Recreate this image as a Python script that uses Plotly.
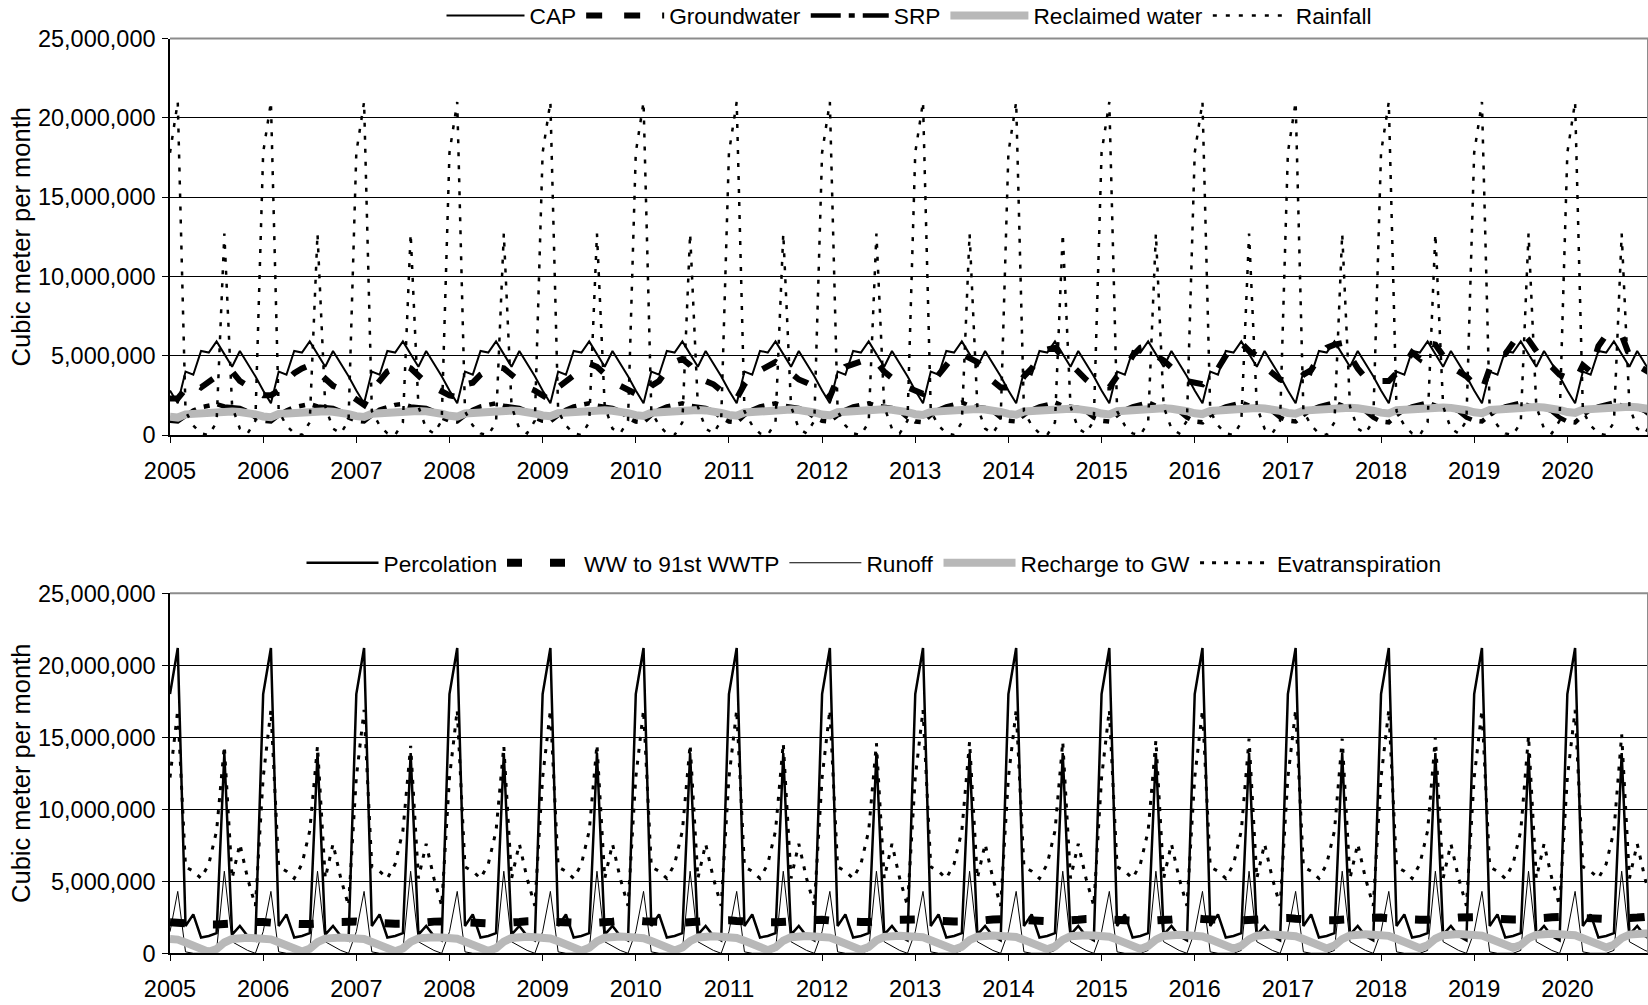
import plotly.graph_objects as go

# ---------------- data (million cubic meters per month), rows = years 2005..2020, 12 months each
years = list(range(2005, 2021))
year_labels = [str(y) for y in years]

cap_rows = [
    [2.8, 2.0, 4.0, 3.8, 5.3, 5.2, 5.9, 5.1, 4.3, 5.3, 4.5, 3.7],
    [2.8, 2.0, 4.0, 3.8, 5.3, 5.2, 5.9, 5.1, 4.3, 5.3, 4.5, 3.7],
    [2.8, 2.0, 4.0, 3.8, 5.3, 5.2, 5.9, 5.1, 4.3, 5.3, 4.5, 3.7],
    [2.8, 2.0, 4.0, 3.8, 5.3, 5.2, 5.9, 5.1, 4.3, 5.3, 4.5, 3.7],
    [2.8, 2.0, 4.0, 3.8, 5.3, 5.2, 5.9, 5.1, 4.3, 5.3, 4.5, 3.7],
    [2.8, 2.0, 4.0, 3.8, 5.3, 5.2, 5.9, 5.1, 4.3, 5.3, 4.5, 3.7],
    [2.8, 2.0, 4.0, 3.8, 5.3, 5.2, 5.9, 5.1, 4.3, 5.3, 4.5, 3.7],
    [2.8, 2.0, 4.0, 3.8, 5.3, 5.2, 5.9, 5.1, 4.3, 5.3, 4.5, 3.7],
    [2.8, 2.0, 4.0, 3.8, 5.3, 5.2, 5.9, 5.1, 4.3, 5.3, 4.5, 3.7],
    [2.8, 2.0, 4.0, 3.8, 5.3, 5.2, 5.9, 5.1, 4.3, 5.3, 4.5, 3.7],
    [2.8, 2.0, 4.0, 3.8, 5.3, 5.2, 5.9, 5.1, 4.3, 5.3, 4.5, 3.7],
    [2.8, 2.0, 4.0, 3.8, 5.3, 5.2, 5.9, 5.1, 4.3, 5.3, 4.5, 3.7],
    [2.8, 2.0, 4.0, 3.8, 5.3, 5.2, 5.9, 5.1, 4.3, 5.3, 4.5, 3.7],
    [2.8, 2.0, 4.0, 3.8, 5.3, 5.2, 5.9, 5.1, 4.3, 5.3, 4.5, 3.7],
    [2.8, 2.0, 4.0, 3.8, 5.3, 5.2, 5.9, 5.1, 4.3, 5.3, 4.5, 3.7],
    [2.8, 2.0, 4.0, 3.8, 5.3, 5.2, 5.9, 5.1, 4.3, 5.3, 4.5, 3.7],
]

groundwater_rows = [
    [2.3, 2.3, 2.9, 3.3, 3.0, 3.4, 3.7, 3.9, 4.0, 3.4, 3.1, 2.8],
    [2.5, 2.5, 2.8, 3.4, 3.9, 4.2, 4.4, 4.0, 3.5, 3.1, 2.9, 2.6],
    [2.2, 1.9, 2.8, 3.4, 4.0, 4.2, 4.4, 4.2, 3.7, 3.3, 3.0, 2.7],
    [2.5, 2.4, 3.2, 3.3, 3.8, 4.1, 4.3, 4.2, 3.8, 3.3, 3.0, 2.8],
    [2.5, 2.2, 3.0, 3.4, 3.7, 4.1, 4.5, 4.3, 3.8, 3.4, 3.1, 2.8],
    [2.6, 2.4, 3.1, 3.4, 4.1, 4.6, 4.8, 4.4, 3.8, 3.4, 3.2, 2.8],
    [2.4, 2.3, 3.2, 3.8, 4.1, 4.4, 4.6, 4.3, 3.9, 3.5, 3.3, 3.1],
    [2.8, 2.4, 3.6, 4.3, 4.5, 4.6, 4.8, 4.6, 4.0, 3.6, 3.2, 3.0],
    [2.8, 2.6, 3.2, 3.8, 4.5, 5.0, 5.1, 4.8, 4.6, 4.0, 3.4, 3.0],
    [3.0, 2.9, 3.7, 4.2, 4.9, 5.4, 5.5, 4.9, 4.5, 4.0, 3.5, 3.1],
    [3.0, 3.0, 3.7, 4.1, 5.0, 5.5, 5.6, 5.0, 4.7, 4.2, 3.8, 3.4],
    [3.3, 3.2, 3.8, 4.2, 5.0, 5.6, 5.8, 5.3, 5.0, 4.3, 3.9, 3.5],
    [3.4, 3.3, 3.8, 4.1, 4.9, 5.5, 5.7, 5.8, 5.0, 4.2, 3.6, 3.6],
    [3.4, 3.4, 3.9, 4.4, 5.2, 4.8, 5.8, 5.7, 5.0, 4.3, 4.0, 3.7],
    [3.2, 2.8, 4.2, 5.0, 5.1, 5.8, 6.5, 6.0, 5.3, 4.6, 4.3, 3.8],
    [3.6, 3.4, 4.4, 4.0, 5.6, 6.3, 6.2, 6.3, 5.0, 4.4, 4.1, 3.8],
]

srp_rows = [
    [0.90, 0.85, 1.20, 1.55, 1.75, 1.85, 1.95, 1.80, 1.75, 1.70, 1.50, 1.10],
    [0.90, 0.85, 1.25, 1.55, 1.75, 1.85, 1.95, 1.80, 1.75, 1.70, 1.50, 1.10],
    [0.90, 0.85, 1.25, 1.60, 1.75, 1.90, 1.95, 1.80, 1.75, 1.70, 1.50, 1.10],
    [0.90, 0.85, 1.25, 1.60, 1.80, 1.90, 2.00, 1.85, 1.75, 1.70, 1.50, 1.10],
    [0.90, 0.85, 1.25, 1.60, 1.80, 1.90, 2.00, 1.85, 1.75, 1.70, 1.50, 1.10],
    [0.85, 0.80, 1.25, 1.60, 1.80, 1.90, 2.00, 1.85, 1.75, 1.70, 1.50, 1.10],
    [0.85, 0.80, 1.25, 1.60, 1.80, 1.90, 2.00, 1.85, 1.75, 1.70, 1.50, 1.10],
    [0.90, 0.85, 1.25, 1.60, 1.80, 1.90, 2.00, 1.85, 1.75, 1.70, 1.50, 1.10],
    [0.85, 0.80, 1.25, 1.60, 1.80, 1.95, 2.05, 1.85, 1.75, 1.70, 1.50, 1.10],
    [0.90, 0.85, 1.25, 1.60, 1.80, 1.95, 2.05, 1.85, 1.75, 1.70, 1.50, 1.10],
    [0.90, 0.85, 1.25, 1.60, 1.80, 1.95, 2.05, 1.85, 1.75, 1.70, 1.50, 1.10],
    [0.85, 0.80, 1.25, 1.60, 1.80, 1.95, 2.05, 1.85, 1.75, 1.70, 1.50, 1.10],
    [0.90, 0.85, 1.25, 1.60, 1.80, 1.95, 2.05, 1.85, 1.75, 1.70, 1.50, 1.10],
    [0.85, 0.80, 1.25, 1.60, 1.80, 1.95, 2.05, 1.85, 1.75, 1.70, 1.50, 1.10],
    [0.90, 0.85, 1.25, 1.60, 1.80, 1.95, 2.05, 1.85, 1.75, 1.70, 1.50, 1.10],
    [0.85, 0.80, 1.25, 1.60, 1.80, 1.95, 2.05, 1.85, 1.75, 1.70, 1.50, 1.10],
]

reclaimed_rows = [
    [1.15, 1.10, 1.30, 1.35, 1.40, 1.45, 1.50, 1.50, 1.48, 1.45, 1.40, 1.30],
    [1.17, 1.12, 1.32, 1.37, 1.42, 1.47, 1.52, 1.52, 1.50, 1.47, 1.42, 1.32],
    [1.19, 1.14, 1.34, 1.39, 1.44, 1.49, 1.54, 1.54, 1.52, 1.49, 1.44, 1.34],
    [1.21, 1.16, 1.36, 1.41, 1.46, 1.51, 1.56, 1.56, 1.54, 1.51, 1.46, 1.36],
    [1.23, 1.18, 1.38, 1.43, 1.48, 1.53, 1.58, 1.58, 1.56, 1.53, 1.48, 1.38],
    [1.25, 1.20, 1.40, 1.45, 1.50, 1.55, 1.60, 1.60, 1.58, 1.55, 1.50, 1.40],
    [1.27, 1.22, 1.42, 1.47, 1.52, 1.57, 1.62, 1.62, 1.60, 1.57, 1.52, 1.42],
    [1.29, 1.24, 1.44, 1.49, 1.54, 1.59, 1.64, 1.64, 1.62, 1.59, 1.54, 1.44],
    [1.31, 1.26, 1.46, 1.51, 1.56, 1.61, 1.66, 1.66, 1.64, 1.61, 1.56, 1.46],
    [1.33, 1.28, 1.48, 1.53, 1.58, 1.63, 1.68, 1.68, 1.66, 1.63, 1.58, 1.48],
    [1.35, 1.30, 1.50, 1.55, 1.60, 1.65, 1.70, 1.70, 1.68, 1.65, 1.60, 1.50],
    [1.37, 1.32, 1.52, 1.57, 1.62, 1.67, 1.72, 1.72, 1.70, 1.67, 1.62, 1.52],
    [1.39, 1.34, 1.54, 1.59, 1.64, 1.69, 1.74, 1.74, 1.72, 1.69, 1.64, 1.54],
    [1.41, 1.36, 1.56, 1.61, 1.66, 1.71, 1.76, 1.76, 1.74, 1.71, 1.66, 1.56],
    [1.43, 1.38, 1.58, 1.63, 1.68, 1.73, 1.78, 1.78, 1.76, 1.73, 1.68, 1.58],
    [1.45, 1.40, 1.60, 1.65, 1.70, 1.75, 1.80, 1.80, 1.78, 1.75, 1.70, 1.60],
]

rainfall_rows = [
    [17.8, 21.0, 1.5, 0.6, 0.1, 0.0, 0.8, 12.7, 1.8, 0.4, 0.1, 0.9],
    [17.8, 21.0, 1.5, 0.6, 0.1, 0.0, 0.8, 12.7, 1.8, 0.4, 0.1, 0.9],
    [17.8, 21.0, 1.5, 0.6, 0.1, 0.0, 0.8, 12.7, 1.8, 0.4, 0.1, 0.9],
    [17.8, 21.0, 1.5, 0.6, 0.1, 0.0, 0.8, 12.7, 1.8, 0.4, 0.1, 0.9],
    [17.8, 21.0, 1.5, 0.6, 0.1, 0.0, 0.8, 12.7, 1.8, 0.4, 0.1, 0.9],
    [17.8, 21.0, 1.5, 0.6, 0.1, 0.0, 0.8, 12.7, 1.8, 0.4, 0.1, 0.9],
    [17.8, 21.0, 1.5, 0.6, 0.1, 0.0, 0.8, 12.7, 1.8, 0.4, 0.1, 0.9],
    [17.8, 21.0, 1.5, 0.6, 0.1, 0.0, 0.8, 12.7, 1.8, 0.4, 0.1, 0.9],
    [17.8, 21.0, 1.5, 0.6, 0.1, 0.0, 0.8, 12.7, 1.8, 0.4, 0.1, 0.9],
    [17.8, 21.0, 1.5, 0.6, 0.1, 0.0, 0.8, 12.7, 1.8, 0.4, 0.1, 0.9],
    [17.8, 21.0, 1.5, 0.6, 0.1, 0.0, 0.8, 12.7, 1.8, 0.4, 0.1, 0.9],
    [17.8, 21.0, 1.5, 0.6, 0.1, 0.0, 0.8, 12.7, 1.8, 0.4, 0.1, 0.9],
    [17.8, 21.0, 1.5, 0.6, 0.1, 0.0, 0.8, 12.7, 1.8, 0.4, 0.1, 0.9],
    [17.8, 21.0, 1.5, 0.6, 0.1, 0.0, 0.8, 12.7, 1.8, 0.4, 0.1, 0.9],
    [17.8, 21.0, 1.5, 0.6, 0.1, 0.0, 0.8, 12.7, 1.8, 0.4, 0.1, 0.9],
    [17.8, 21.0, 1.5, 0.6, 0.1, 0.0, 0.8, 12.7, 1.8, 0.4, 0.1, 0.9],
]

percolation_rows = [
    [18.0, 21.2, 1.9, 2.7, 1.1, 1.2, 1.4, 13.9, 1.3, 1.9, 1.2, 0.9],
    [18.0, 21.2, 1.9, 2.7, 1.1, 1.2, 1.4, 13.9, 1.3, 1.9, 1.2, 0.9],
    [18.0, 21.2, 1.9, 2.7, 1.1, 1.2, 1.4, 13.9, 1.3, 1.9, 1.2, 0.9],
    [18.0, 21.2, 1.9, 2.7, 1.1, 1.2, 1.4, 13.9, 1.3, 1.9, 1.2, 0.9],
    [18.0, 21.2, 1.9, 2.7, 1.1, 1.2, 1.4, 13.9, 1.3, 1.9, 1.2, 0.9],
    [18.0, 21.2, 1.9, 2.7, 1.1, 1.2, 1.4, 13.9, 1.3, 1.9, 1.2, 0.9],
    [18.0, 21.2, 1.9, 2.7, 1.1, 1.2, 1.4, 13.9, 1.3, 1.9, 1.2, 0.9],
    [18.0, 21.2, 1.9, 2.7, 1.1, 1.2, 1.4, 13.9, 1.3, 1.9, 1.2, 0.9],
    [18.0, 21.2, 1.9, 2.7, 1.1, 1.2, 1.4, 13.9, 1.3, 1.9, 1.2, 0.9],
    [18.0, 21.2, 1.9, 2.7, 1.1, 1.2, 1.4, 13.9, 1.3, 1.9, 1.2, 0.9],
    [18.0, 21.2, 1.9, 2.7, 1.1, 1.2, 1.4, 13.9, 1.3, 1.9, 1.2, 0.9],
    [18.0, 21.2, 1.9, 2.7, 1.1, 1.2, 1.4, 13.9, 1.3, 1.9, 1.2, 0.9],
    [18.0, 21.2, 1.9, 2.7, 1.1, 1.2, 1.4, 13.9, 1.3, 1.9, 1.2, 0.9],
    [18.0, 21.2, 1.9, 2.7, 1.1, 1.2, 1.4, 13.9, 1.3, 1.9, 1.2, 0.9],
    [18.0, 21.2, 1.9, 2.7, 1.1, 1.2, 1.4, 13.9, 1.3, 1.9, 1.2, 0.9],
    [18.0, 21.2, 1.9, 2.7, 1.1, 1.2, 1.4, 13.9, 1.3, 1.9, 1.2, 0.9],
]

ww_rows = [
    [2.15, 2.10, 2.05, 2.00, 2.00, 2.00, 2.00, 2.00, 2.05, 2.10, 2.15, 2.20],
    [2.18, 2.13, 2.08, 2.03, 2.03, 2.03, 2.03, 2.03, 2.08, 2.13, 2.18, 2.23],
    [2.20, 2.15, 2.10, 2.05, 2.05, 2.05, 2.05, 2.05, 2.10, 2.15, 2.20, 2.25],
    [2.23, 2.18, 2.13, 2.08, 2.08, 2.08, 2.08, 2.08, 2.13, 2.18, 2.23, 2.28],
    [2.25, 2.20, 2.15, 2.10, 2.10, 2.10, 2.10, 2.10, 2.15, 2.20, 2.25, 2.30],
    [2.28, 2.23, 2.18, 2.13, 2.13, 2.13, 2.13, 2.13, 2.18, 2.23, 2.28, 2.33],
    [2.30, 2.25, 2.20, 2.15, 2.15, 2.15, 2.15, 2.15, 2.20, 2.25, 2.30, 2.35],
    [2.33, 2.28, 2.23, 2.18, 2.18, 2.18, 2.18, 2.18, 2.23, 2.28, 2.33, 2.38],
    [2.35, 2.30, 2.25, 2.20, 2.20, 2.20, 2.20, 2.20, 2.25, 2.30, 2.35, 2.40],
    [2.38, 2.33, 2.28, 2.23, 2.23, 2.23, 2.23, 2.23, 2.28, 2.33, 2.38, 2.43],
    [2.40, 2.35, 2.30, 2.25, 2.25, 2.25, 2.25, 2.25, 2.30, 2.35, 2.40, 2.45],
    [2.43, 2.38, 2.33, 2.28, 2.28, 2.28, 2.28, 2.28, 2.33, 2.38, 2.43, 2.48],
    [2.45, 2.40, 2.35, 2.30, 2.30, 2.30, 2.30, 2.30, 2.35, 2.40, 2.45, 2.50],
    [2.48, 2.43, 2.38, 2.33, 2.33, 2.33, 2.33, 2.33, 2.38, 2.43, 2.48, 2.53],
    [2.50, 2.45, 2.40, 2.35, 2.35, 2.35, 2.35, 2.35, 2.40, 2.45, 2.50, 2.55],
    [2.53, 2.48, 2.43, 2.38, 2.38, 2.38, 2.38, 2.38, 2.43, 2.48, 2.53, 2.58],
]

runoff_rows = [
    [1.5, 4.3, 0.1, 0.0, 0.0, 0.0, 0.2, 5.7, 0.8, 0.5, 0.2, 0.0],
    [1.5, 4.3, 0.1, 0.0, 0.0, 0.0, 0.2, 5.7, 0.8, 0.5, 0.2, 0.0],
    [1.5, 4.3, 0.1, 0.0, 0.0, 0.0, 0.2, 5.7, 0.8, 0.5, 0.2, 0.0],
    [1.5, 4.3, 0.1, 0.0, 0.0, 0.0, 0.2, 5.7, 0.8, 0.5, 0.2, 0.0],
    [1.5, 4.3, 0.1, 0.0, 0.0, 0.0, 0.2, 5.7, 0.8, 0.5, 0.2, 0.0],
    [1.5, 4.3, 0.1, 0.0, 0.0, 0.0, 0.2, 5.7, 0.8, 0.5, 0.2, 0.0],
    [1.5, 4.3, 0.1, 0.0, 0.0, 0.0, 0.2, 5.7, 0.8, 0.5, 0.2, 0.0],
    [1.5, 4.3, 0.1, 0.0, 0.0, 0.0, 0.2, 5.7, 0.8, 0.5, 0.2, 0.0],
    [1.5, 4.3, 0.1, 0.0, 0.0, 0.0, 0.2, 5.7, 0.8, 0.5, 0.2, 0.0],
    [1.5, 4.3, 0.1, 0.0, 0.0, 0.0, 0.2, 5.7, 0.8, 0.5, 0.2, 0.0],
    [1.5, 4.3, 0.1, 0.0, 0.0, 0.0, 0.2, 5.7, 0.8, 0.5, 0.2, 0.0],
    [1.5, 4.3, 0.1, 0.0, 0.0, 0.0, 0.2, 5.7, 0.8, 0.5, 0.2, 0.0],
    [1.5, 4.3, 0.1, 0.0, 0.0, 0.0, 0.2, 5.7, 0.8, 0.5, 0.2, 0.0],
    [1.5, 4.3, 0.1, 0.0, 0.0, 0.0, 0.2, 5.7, 0.8, 0.5, 0.2, 0.0],
    [1.5, 4.3, 0.1, 0.0, 0.0, 0.0, 0.2, 5.7, 0.8, 0.5, 0.2, 0.0],
    [1.5, 4.3, 0.1, 0.0, 0.0, 0.0, 0.2, 5.7, 0.8, 0.5, 0.2, 0.0],
]

recharge_rows = [
    [1.00, 0.95, 0.75, 0.50, 0.25, 0.10, 0.30, 0.75, 1.00, 1.08, 1.08, 1.05],
    [1.02, 0.97, 0.77, 0.52, 0.27, 0.12, 0.32, 0.77, 1.02, 1.10, 1.10, 1.07],
    [1.04, 0.99, 0.79, 0.54, 0.29, 0.14, 0.34, 0.79, 1.04, 1.12, 1.12, 1.09],
    [1.06, 1.01, 0.81, 0.56, 0.31, 0.16, 0.36, 0.81, 1.06, 1.14, 1.14, 1.11],
    [1.08, 1.03, 0.83, 0.58, 0.33, 0.18, 0.38, 0.83, 1.08, 1.16, 1.16, 1.13],
    [1.10, 1.05, 0.85, 0.60, 0.35, 0.20, 0.40, 0.85, 1.10, 1.18, 1.18, 1.15],
    [1.12, 1.07, 0.87, 0.62, 0.37, 0.22, 0.42, 0.87, 1.12, 1.20, 1.20, 1.17],
    [1.14, 1.09, 0.89, 0.64, 0.39, 0.24, 0.44, 0.89, 1.14, 1.22, 1.22, 1.19],
    [1.16, 1.11, 0.91, 0.66, 0.41, 0.26, 0.46, 0.91, 1.16, 1.24, 1.24, 1.21],
    [1.18, 1.13, 0.93, 0.68, 0.43, 0.28, 0.48, 0.93, 1.18, 1.26, 1.26, 1.23],
    [1.20, 1.15, 0.95, 0.70, 0.45, 0.30, 0.50, 0.95, 1.20, 1.28, 1.28, 1.25],
    [1.22, 1.17, 0.97, 0.72, 0.47, 0.32, 0.52, 0.97, 1.22, 1.30, 1.30, 1.27],
    [1.24, 1.19, 0.99, 0.74, 0.49, 0.34, 0.54, 0.99, 1.24, 1.32, 1.32, 1.29],
    [1.26, 1.21, 1.01, 0.76, 0.51, 0.36, 0.56, 1.01, 1.26, 1.34, 1.34, 1.31],
    [1.28, 1.23, 1.03, 0.78, 0.53, 0.38, 0.58, 1.03, 1.28, 1.36, 1.36, 1.33],
    [1.30, 1.25, 1.05, 0.80, 0.55, 0.40, 0.60, 1.05, 1.30, 1.38, 1.38, 1.35],
]

evap_rows = [
    [12.2, 16.9, 6.0, 5.7, 5.2, 6.2, 8.5, 14.4, 5.2, 7.6, 5.2, 3.3],
    [12.2, 16.9, 6.0, 5.7, 5.2, 6.2, 8.5, 14.4, 5.2, 7.6, 5.2, 3.3],
    [12.2, 16.9, 6.0, 5.7, 5.2, 6.2, 8.5, 14.4, 5.2, 7.6, 5.2, 3.3],
    [12.2, 16.9, 6.0, 5.7, 5.2, 6.2, 8.5, 14.4, 5.2, 7.6, 5.2, 3.3],
    [12.2, 16.9, 6.0, 5.7, 5.2, 6.2, 8.5, 14.5, 5.2, 7.6, 5.2, 3.3],
    [12.2, 16.9, 6.0, 5.7, 5.2, 6.2, 8.5, 14.5, 5.2, 7.6, 5.2, 3.3],
    [12.2, 16.9, 6.0, 5.7, 5.2, 6.2, 8.5, 14.6, 5.2, 7.6, 5.2, 3.3],
    [12.2, 16.9, 6.0, 5.7, 5.2, 6.2, 8.5, 14.6, 5.2, 7.6, 5.2, 3.3],
    [12.2, 16.9, 6.0, 5.7, 5.2, 6.2, 8.5, 14.7, 5.2, 7.6, 5.2, 3.3],
    [12.2, 16.9, 6.0, 5.7, 5.2, 6.2, 8.5, 14.7, 5.2, 7.6, 5.2, 3.3],
    [12.2, 16.9, 6.0, 5.7, 5.2, 6.2, 8.5, 14.8, 5.2, 7.6, 5.2, 3.3],
    [12.2, 16.9, 6.0, 5.7, 5.2, 6.2, 8.5, 14.9, 5.2, 7.6, 5.2, 3.3],
    [12.2, 16.9, 6.0, 5.7, 5.2, 6.2, 8.5, 14.9, 5.2, 7.6, 5.2, 3.3],
    [12.2, 16.9, 6.0, 5.7, 5.2, 6.2, 8.5, 15.0, 5.2, 7.6, 5.2, 3.3],
    [12.2, 16.9, 6.0, 5.7, 5.2, 6.2, 8.5, 15.1, 5.2, 7.6, 5.2, 3.3],
    [12.2, 16.9, 6.0, 5.7, 5.2, 6.2, 8.5, 15.2, 5.2, 7.6, 5.2, 3.3],
]


def flat(rows):
    return [v * 1e6 for row in rows for v in row]


months = list(range(len(years) * 12))
tick_pos = [i * 12 for i in range(len(years))]

FONT = "Liberation Sans, Arial, sans-serif"
BLACK = "#000000"
GRAY = "#b8b8b8"

fig = go.Figure()

top = [
    ("CAP", cap_rows, dict(color=BLACK, width=2, dash="solid")),
    ("Groundwater", groundwater_rows, dict(color=BLACK, width=6, dash="16px,22px")),
    ("SRP", srp_rows, dict(color=BLACK, width=4.5, dash="30px,8px,6px,8px")),
    ("Reclaimed water", reclaimed_rows, dict(color=GRAY, width=8, dash="solid")),
    ("Rainfall", rainfall_rows, dict(color=BLACK, width=2.5, dash="4px,9px")),
]
bottom = [
    ("Percolation", percolation_rows, dict(color=BLACK, width=2.5, dash="solid")),
    ("WW to 91st WWTP", ww_rows, dict(color=BLACK, width=8, dash="15px,28px")),
    ("Runoff", runoff_rows, dict(color=BLACK, width=1, dash="solid")),
    ("Recharge to GW", recharge_rows, dict(color=GRAY, width=8, dash="solid")),
    ("Evatranspiration", evap_rows, dict(color=BLACK, width=3, dash="4px,8px")),
]

for name, rows, line in top:
    fig.add_trace(go.Scatter(x=months, y=flat(rows), mode="lines", name=name,
                             line=line, xaxis="x", yaxis="y", legend="legend"))
for name, rows, line in bottom:
    fig.add_trace(go.Scatter(x=months, y=flat(rows), mode="lines", name=name,
                             line=line, xaxis="x2", yaxis="y2", legend="legend2"))

W, H = 1648, 1005
x_left = 170
month_px = 7.763
x_max = (W - x_left) / month_px

top_dom = [1 - 435 / H, 1 - 38.5 / H]
bot_dom = [1 - 953.3 / H, 1 - 593.3 / H]

xaxis_common = dict(
    range=[0, x_max], tickmode="array", tickvals=tick_pos, ticktext=year_labels,
    showgrid=False, zeroline=False, showline=True, linecolor=BLACK, linewidth=1.5,
    ticks="outside", ticklen=6, tickcolor=BLACK, tickwidth=1.2,
    tickfont=dict(family=FONT, size=23.5, color=BLACK), ticklabelstandoff=8,
    domain=[x_left / W, 1], automargin=False,
)
yaxis_common = dict(
    range=[0, 25e6], dtick=5e6, tick0=0, tickformat=",.0f",
    showgrid=True, gridcolor=BLACK, gridwidth=1, zeroline=False,
    showline=True, linecolor=BLACK, linewidth=1.5,
    ticks="outside", ticklen=6, tickcolor=BLACK, tickwidth=1.2,
    tickfont=dict(family=FONT, size=23.5, color=BLACK), ticklabelstandoff=2,
    title=dict(text="Cubic meter per month", font=dict(family=FONT, size=25.5, color=BLACK), standoff=0),
    automargin=False,
)

legend_common = dict(
    orientation="h", font=dict(family=FONT, size=22.7, color=BLACK),
    bgcolor="rgba(0,0,0,0)", xanchor="center", yanchor="middle",
    tracegroupgap=0,
)

fig.update_layout(
    template="none",
    width=W, height=H,
    margin=dict(l=0, r=0, t=0, b=0, pad=0, autoexpand=False),
    paper_bgcolor="white", plot_bgcolor="white",
    font=dict(family=FONT, size=22, color=BLACK),
    xaxis=dict(xaxis_common, anchor="y"),
    yaxis=dict(yaxis_common, domain=top_dom, anchor="x"),
    xaxis2=dict(xaxis_common, anchor="y2"),
    yaxis2=dict(yaxis_common, domain=bot_dom, anchor="x2"),
    legend=dict(legend_common, x=909 / W, y=1 - 15.8 / H, itemwidth=78),
    legend2=dict(legend_common, x=874 / W, y=1 - 563 / H, itemwidth=72),
    showlegend=True,
)

# plot-area frame (top and right edges, gray as in the reference)
for xr, yr in (("x domain", "y domain"), ("x2 domain", "y2 domain")):
    fig.add_shape(type="line", xref=xr, yref=yr, x0=0, x1=1, y0=1, y1=1,
                  line=dict(color="#8c8c8c", width=2))
    fig.add_shape(type="line", xref=xr, yref=yr, x0=1, x1=1, y0=0, y1=1,
                  line=dict(color="#8c8c8c", width=2))

# remove the default page margin so the 1648x1005 figure fills the window exactly
page_css = ("document.documentElement.style.margin='0';"
            "document.body.style.margin='0';"
            "document.body.style.overflow='hidden';"
            "document.documentElement.style.overflow='hidden';")

fig.write_html("out.html", post_script=page_css, config={"displayModeBar": False})
